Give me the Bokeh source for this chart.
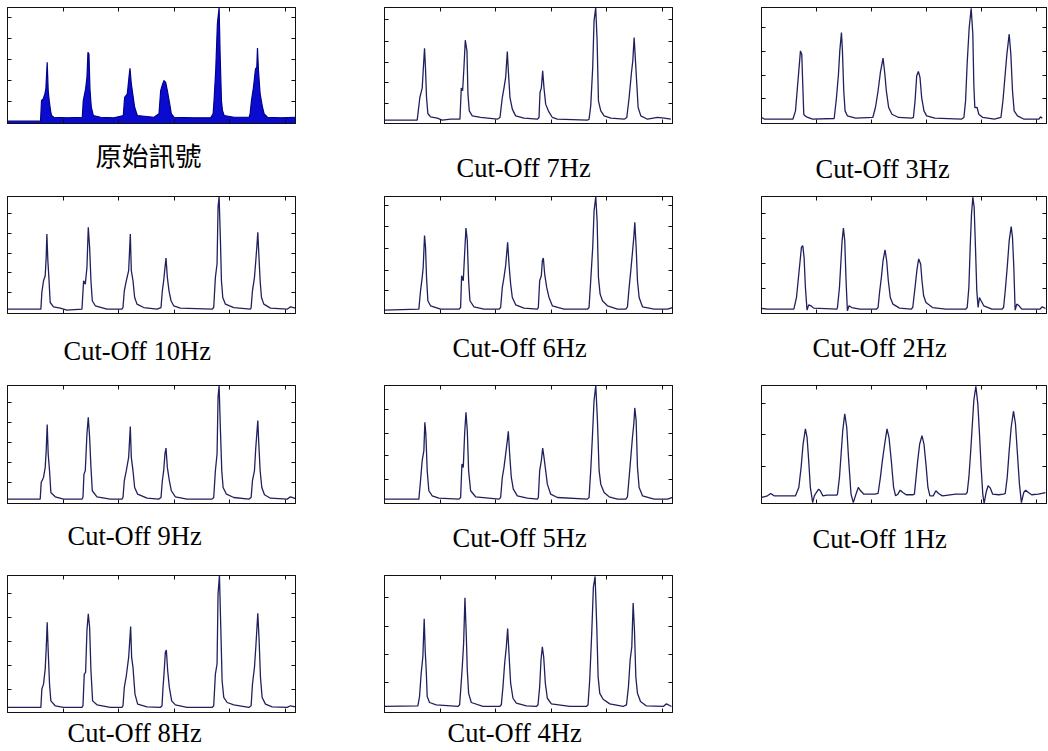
from bokeh.plotting import figure
from bokeh.models import Range1d, LinearAxis, FixedTicker, Title, CustomLabelingPolicy
from bokeh.layouts import column, row
from bokeh.embed import file_html
from bokeh.resources import INLINE

# ---------------- data (time in s, amplitude normalised to full scale) ----------------
x_ticks = [1, 2, 3, 4, 5]

sig_original = [(0.000,0.02),(0.594,0.02),(0.612,0.198),(0.642,0.212),(0.672,0.255),(0.690,0.298),(0.714,0.527),(0.732,0.284),(0.750,0.198),(0.774,0.112),(0.792,0.069),(0.834,0.054),(1.074,0.049),(1.345,0.054),(1.363,0.198),(1.405,0.298),(1.429,0.398),(1.447,0.613),(1.465,0.599),(1.483,0.298),(1.507,0.140),(1.543,0.069),(1.675,0.054),(1.915,0.049),(2.083,0.069),(2.107,0.226),(2.155,0.255),(2.185,0.398),(2.203,0.476),(2.227,0.341),(2.257,0.241),(2.287,0.140),(2.335,0.069),(2.635,0.054),(2.725,0.083),(2.755,0.284),(2.791,0.341),(2.815,0.370),(2.845,0.355),(2.875,0.284),(2.917,0.169),(2.947,0.083),(2.995,0.054),(3.355,0.049),(3.655,0.049),(3.698,0.083),(3.715,0.198),(3.745,0.456),(3.775,0.857),(3.806,1.0),(3.824,0.599),(3.848,0.198),(3.866,0.112),(3.896,0.069),(4.076,0.054),(4.346,0.054),(4.364,0.083),(4.388,0.198),(4.424,0.312),(4.460,0.470),(4.484,0.484),(4.496,0.650),(4.514,0.456),(4.544,0.255),(4.586,0.140),(4.616,0.083),(4.676,0.054),(4.916,0.049),(5.186,0.054)]

sig_7hz = [(0.000,0.029),(0.588,0.029),(0.636,0.224),(0.678,0.305),(0.696,0.454),(0.720,0.649),(0.738,0.468),(0.756,0.224),(0.780,0.086),(0.828,0.057),(0.948,0.046),(1.038,0.029),(1.188,0.037),(1.357,0.037),(1.381,0.305),(1.405,0.282),(1.429,0.483),(1.453,0.718),(1.483,0.626),(1.501,0.253),(1.525,0.109),(1.579,0.066),(1.729,0.052),(2.029,0.037),(2.077,0.052),(2.119,0.224),(2.149,0.305),(2.179,0.397),(2.209,0.621),(2.227,0.454),(2.257,0.224),(2.299,0.124),(2.359,0.066),(2.509,0.046),(2.749,0.037),(2.779,0.052),(2.797,0.267),(2.821,0.305),(2.845,0.454),(2.869,0.305),(2.899,0.167),(2.947,0.109),(3.019,0.052),(3.109,0.037),(3.649,0.029),(3.679,0.037),(3.709,0.152),(3.745,0.483),(3.769,0.885),(3.799,1.0),(3.824,0.713),(3.848,0.195),(3.890,0.109),(3.950,0.066),(4.070,0.046),(4.310,0.037),(4.358,0.052),(4.400,0.224),(4.442,0.440),(4.466,0.540),(4.490,0.741),(4.514,0.540),(4.538,0.339),(4.562,0.138),(4.610,0.066),(4.730,0.037),(4.910,0.052),(5.030,0.046),(5.150,0.037)]

sig_3hz = [(0.000,0.052),(0.060,0.037),(0.570,0.037),(0.618,0.109),(0.648,0.282),(0.678,0.454),(0.708,0.626),(0.732,0.598),(0.750,0.339),(0.768,0.080),(0.792,0.066),(0.840,0.052),(0.930,0.037),(1.321,0.043),(1.363,0.224),(1.399,0.425),(1.423,0.626),(1.453,0.784),(1.471,0.626),(1.495,0.282),(1.519,0.109),(1.561,0.066),(1.711,0.046),(2.023,0.052),(2.071,0.138),(2.119,0.282),(2.161,0.440),(2.209,0.563),(2.239,0.440),(2.269,0.282),(2.311,0.138),(2.371,0.080),(2.491,0.052),(2.731,0.046),(2.761,0.052),(2.791,0.195),(2.821,0.411),(2.851,0.448),(2.881,0.397),(2.911,0.224),(2.953,0.109),(3.001,0.066),(3.151,0.046),(3.631,0.037),(3.679,0.052),(3.709,0.195),(3.739,0.526),(3.775,0.828),(3.811,0.994),(3.841,0.770),(3.859,0.339),(3.877,0.138),(3.919,0.138),(3.949,0.080),(4.022,0.052),(4.232,0.037),(4.352,0.052),(4.388,0.195),(4.424,0.397),(4.460,0.598),(4.502,0.770),(4.532,0.598),(4.562,0.282),(4.592,0.109),(4.652,0.066),(4.772,0.037),(5.042,0.037),(5.072,0.057),(5.102,0.046)]

sig_10hz = [(0.000,0.037),(0.600,0.037),(0.618,0.180),(0.648,0.280),(0.678,0.323),(0.696,0.480),(0.708,0.680),(0.726,0.451),(0.744,0.309),(0.768,0.094),(0.828,0.057),(0.948,0.046),(1.068,0.029),(1.339,0.037),(1.369,0.280),(1.399,0.251),(1.429,0.394),(1.453,0.737),(1.477,0.566),(1.501,0.280),(1.525,0.109),(1.579,0.066),(1.789,0.037),(2.059,0.037),(2.077,0.051),(2.101,0.194),(2.137,0.280),(2.179,0.366),(2.209,0.680),(2.227,0.366),(2.257,0.280),(2.287,0.137),(2.329,0.080),(2.449,0.051),(2.689,0.037),(2.761,0.051),(2.785,0.194),(2.809,0.280),(2.833,0.394),(2.851,0.474),(2.875,0.309),(2.905,0.194),(2.941,0.109),(2.989,0.066),(3.109,0.046),(3.679,0.037),(3.709,0.051),(3.739,0.309),(3.769,0.423),(3.787,0.909),(3.806,1.0),(3.830,0.623),(3.848,0.280),(3.872,0.137),(3.920,0.080),(4.070,0.051),(4.370,0.037),(4.382,0.051),(4.406,0.194),(4.442,0.309),(4.466,0.451),(4.484,0.566),(4.502,0.694),(4.520,0.509),(4.544,0.280),(4.568,0.137),(4.610,0.080),(4.730,0.046),(5.030,0.037),(5.090,0.057),(5.180,0.046)]

sig_6hz = [(0.000,0.029),(0.618,0.037),(0.648,0.194),(0.678,0.309),(0.696,0.394),(0.720,0.666),(0.738,0.566),(0.756,0.309),(0.780,0.109),(0.828,0.066),(1.008,0.037),(1.339,0.037),(1.369,0.051),(1.387,0.323),(1.417,0.280),(1.441,0.509),(1.465,0.731),(1.489,0.623),(1.513,0.280),(1.537,0.109),(1.609,0.057),(1.789,0.037),(2.059,0.037),(2.089,0.051),(2.119,0.223),(2.149,0.309),(2.179,0.409),(2.215,0.609),(2.239,0.423),(2.269,0.251),(2.299,0.137),(2.359,0.074),(2.509,0.046),(2.749,0.037),(2.767,0.051),(2.791,0.280),(2.821,0.323),(2.839,0.451),(2.857,0.474),(2.881,0.337),(2.917,0.223),(2.959,0.137),(3.019,0.066),(3.229,0.037),(3.649,0.037),(3.679,0.051),(3.709,0.280),(3.745,0.566),(3.770,0.880),(3.800,1.0),(3.824,0.794),(3.848,0.309),(3.878,0.166),(3.920,0.109),(4.010,0.066),(4.190,0.037),(4.340,0.037),(4.370,0.057),(4.400,0.223),(4.430,0.366),(4.460,0.523),(4.484,0.651),(4.502,0.780),(4.526,0.566),(4.550,0.280),(4.580,0.137),(4.640,0.057),(4.850,0.037),(5.090,0.037),(5.180,0.051)]

sig_2hz = [(0.000,0.043),(0.108,0.037),(0.588,0.037),(0.636,0.137),(0.666,0.280),(0.696,0.423),(0.726,0.566),(0.750,0.580),(0.774,0.480),(0.798,0.223),(0.828,0.029),(0.858,0.074),(0.900,0.066),(0.948,0.046),(1.369,0.037),(1.381,0.051),(1.417,0.223),(1.441,0.423),(1.465,0.623),(1.489,0.731),(1.513,0.623),(1.537,0.280),(1.561,0.023),(1.591,0.066),(1.639,0.051),(1.789,0.037),(2.089,0.037),(2.119,0.051),(2.149,0.194),(2.179,0.309),(2.209,0.451),(2.245,0.543),(2.275,0.451),(2.305,0.280),(2.341,0.137),(2.389,0.080),(2.509,0.046),(2.719,0.037),(2.749,0.051),(2.791,0.223),(2.827,0.380),(2.857,0.466),(2.893,0.423),(2.917,0.280),(2.947,0.151),(2.989,0.094),(3.109,0.051),(3.349,0.037),(3.709,0.037),(3.739,0.051),(3.769,0.223),(3.793,0.566),(3.817,0.851),(3.841,0.994),(3.865,0.909),(3.889,0.566),(3.913,0.194),(3.937,0.051),(3.961,0.137),(3.991,0.109),(4.040,0.066),(4.190,0.037),(4.370,0.037),(4.400,0.051),(4.430,0.194),(4.466,0.394),(4.502,0.623),(4.538,0.743),(4.562,0.651),(4.586,0.394),(4.610,0.029),(4.640,0.080),(4.682,0.066),(4.730,0.037),(5.060,0.037),(5.102,0.057),(5.162,0.043)]

sig_9hz = [(0.000,0.037),(0.588,0.037),(0.606,0.178),(0.648,0.221),(0.678,0.306),(0.696,0.448),(0.714,0.669),(0.732,0.419),(0.756,0.278),(0.780,0.093),(0.858,0.057),(1.008,0.037),(1.339,0.037),(1.357,0.051),(1.375,0.249),(1.399,0.278),(1.429,0.589),(1.453,0.731),(1.477,0.561),(1.501,0.306),(1.525,0.108),(1.609,0.057),(1.849,0.037),(2.059,0.037),(2.077,0.051),(2.101,0.193),(2.137,0.278),(2.179,0.391),(2.209,0.652),(2.227,0.391),(2.257,0.278),(2.287,0.136),(2.341,0.079),(2.509,0.045),(2.719,0.037),(2.761,0.051),(2.785,0.193),(2.809,0.278),(2.833,0.425),(2.851,0.470),(2.875,0.306),(2.911,0.193),(2.947,0.108),(3.019,0.057),(3.229,0.037),(3.679,0.037),(3.709,0.051),(3.739,0.278),(3.769,0.419),(3.787,0.901),(3.806,1.0),(3.830,0.618),(3.854,0.278),(3.878,0.136),(3.938,0.079),(4.070,0.051),(4.340,0.037),(4.382,0.051),(4.406,0.193),(4.442,0.278),(4.466,0.476),(4.502,0.703),(4.520,0.504),(4.544,0.278),(4.574,0.136),(4.622,0.074),(4.730,0.045),(5.030,0.037),(5.090,0.057),(5.180,0.042)]

sig_5hz = [(0.000,0.037),(0.618,0.037),(0.648,0.193),(0.678,0.363),(0.708,0.448),(0.726,0.688),(0.744,0.589),(0.768,0.278),(0.798,0.108),(0.858,0.065),(0.978,0.045),(1.339,0.037),(1.369,0.051),(1.393,0.334),(1.417,0.306),(1.441,0.589),(1.465,0.773),(1.489,0.618),(1.513,0.278),(1.549,0.108),(1.639,0.057),(2.059,0.037),(2.089,0.051),(2.119,0.221),(2.149,0.306),(2.179,0.419),(2.209,0.533),(2.227,0.612),(2.251,0.419),(2.281,0.221),(2.317,0.122),(2.389,0.065),(2.569,0.045),(2.749,0.037),(2.767,0.051),(2.791,0.278),(2.821,0.363),(2.845,0.470),(2.869,0.391),(2.899,0.278),(2.929,0.164),(2.989,0.079),(3.109,0.051),(3.649,0.037),(3.679,0.051),(3.709,0.278),(3.739,0.561),(3.769,0.873),(3.800,1.0),(3.830,0.703),(3.860,0.278),(3.890,0.164),(3.950,0.093),(4.040,0.057),(4.190,0.037),(4.340,0.037),(4.370,0.057),(4.400,0.221),(4.430,0.391),(4.460,0.561),(4.484,0.674),(4.502,0.810),(4.526,0.703),(4.550,0.306),(4.580,0.136),(4.640,0.065),(4.850,0.037),(5.090,0.037),(5.180,0.051)]

sig_1hz = [(0.000,0.051),(0.108,0.065),(0.168,0.085),(0.228,0.065),(0.618,0.065),(0.678,0.136),(0.720,0.306),(0.756,0.504),(0.798,0.632),(0.828,0.561),(0.858,0.363),(0.888,0.136),(0.930,0.008),(0.960,0.065),(0.996,0.093),(1.038,0.122),(1.068,0.108),(1.116,0.065),(1.188,0.071),(1.369,0.071),(1.381,0.079),(1.417,0.221),(1.447,0.419),(1.477,0.618),(1.513,0.759),(1.549,0.646),(1.585,0.363),(1.627,0.079),(1.669,0.008),(1.717,0.079),(1.759,0.136),(1.801,0.108),(1.861,0.079),(2.059,0.079),(2.119,0.085),(2.161,0.221),(2.197,0.363),(2.239,0.504),(2.281,0.632),(2.317,0.561),(2.359,0.363),(2.401,0.136),(2.437,0.065),(2.479,0.079),(2.521,0.113),(2.569,0.093),(2.629,0.074),(2.749,0.074),(2.779,0.079),(2.809,0.221),(2.839,0.363),(2.875,0.504),(2.917,0.575),(2.953,0.504),(2.989,0.334),(3.025,0.136),(3.061,0.065),(3.121,0.065),(3.169,0.108),(3.217,0.085),(3.289,0.065),(3.529,0.079),(3.709,0.079),(3.739,0.093),(3.769,0.221),(3.799,0.419),(3.829,0.646),(3.859,0.873),(3.896,0.992),(3.932,0.844),(3.962,0.589),(3.992,0.306),(4.022,0.079),(4.046,0.000),(4.082,0.093),(4.118,0.150),(4.160,0.130),(4.202,0.079),(4.310,0.074),(4.400,0.079),(4.430,0.085),(4.466,0.221),(4.502,0.448),(4.538,0.646),(4.580,0.782),(4.616,0.674),(4.652,0.419),(4.688,0.164),(4.724,0.008),(4.766,0.093),(4.802,0.113),(4.850,0.093),(4.910,0.074),(5.030,0.079),(5.162,0.093)]

sig_8hz = [(0.000,0.037),(0.600,0.037),(0.618,0.171),(0.648,0.207),(0.678,0.317),(0.696,0.463),(0.714,0.659),(0.732,0.451),(0.756,0.207),(0.780,0.085),(0.858,0.049),(1.008,0.037),(1.339,0.037),(1.357,0.049),(1.381,0.280),(1.405,0.293),(1.429,0.598),(1.453,0.720),(1.477,0.622),(1.501,0.305),(1.531,0.085),(1.609,0.056),(1.849,0.037),(2.059,0.037),(2.077,0.049),(2.101,0.183),(2.137,0.268),(2.179,0.402),(2.215,0.627),(2.233,0.402),(2.257,0.329),(2.293,0.134),(2.341,0.061),(2.509,0.041),(2.749,0.037),(2.779,0.049),(2.797,0.183),(2.815,0.280),(2.839,0.439),(2.857,0.456),(2.881,0.305),(2.911,0.183),(2.953,0.085),(3.019,0.056),(3.229,0.037),(3.679,0.037),(3.709,0.049),(3.739,0.280),(3.769,0.354),(3.787,0.866),(3.812,1.0),(3.836,0.622),(3.860,0.232),(3.890,0.110),(3.950,0.073),(4.070,0.056),(4.340,0.037),(4.382,0.049),(4.406,0.207),(4.442,0.329),(4.466,0.476),(4.502,0.724),(4.526,0.524),(4.550,0.256),(4.580,0.110),(4.640,0.061),(4.760,0.041),(5.030,0.037),(5.090,0.049),(5.180,0.041)]

sig_4hz = [(0.000,0.044),(0.600,0.048),(0.630,0.116),(0.660,0.286),(0.690,0.407),(0.714,0.685),(0.732,0.455),(0.750,0.310),(0.768,0.116),(0.810,0.073),(0.930,0.056),(1.321,0.044),(1.351,0.056),(1.375,0.189),(1.399,0.334),(1.423,0.504),(1.447,0.838),(1.471,0.564),(1.489,0.310),(1.513,0.140),(1.561,0.073),(1.771,0.044),(2.071,0.044),(2.101,0.056),(2.131,0.189),(2.161,0.358),(2.191,0.479),(2.215,0.613),(2.239,0.431),(2.269,0.213),(2.311,0.104),(2.371,0.068),(2.551,0.048),(2.731,0.044),(2.761,0.056),(2.791,0.189),(2.815,0.383),(2.839,0.479),(2.863,0.407),(2.893,0.213),(2.929,0.104),(3.001,0.063),(3.331,0.044),(3.631,0.044),(3.661,0.056),(3.691,0.237),(3.727,0.576),(3.757,0.915),(3.788,0.993),(3.818,0.625),(3.842,0.262),(3.872,0.140),(3.932,0.097),(4.052,0.063),(4.292,0.044),(4.352,0.056),(4.388,0.189),(4.418,0.383),(4.448,0.479),(4.472,0.799),(4.496,0.600),(4.520,0.262),(4.550,0.140),(4.604,0.080),(4.712,0.048),(5.012,0.044),(5.072,0.063),(5.162,0.044)]

# y tick positions of each panel (normalised amplitude)
yt_original = [0.19, 0.37, 0.55, 0.735, 0.915]
yt_7hz = [0.175, 0.356, 0.528, 0.709, 0.897]
yt_3hz = [0.218, 0.416, 0.623, 0.825]
yt_10hz = [0.180, 0.351, 0.517, 0.686, 0.851]
yt_6hz = [0.194, 0.371, 0.557, 0.743, 0.923]
yt_2hz = [0.214, 0.429, 0.637, 0.851]
yt_9hz = [0.178, 0.348, 0.518, 0.683, 0.858]
yt_5hz = [0.207, 0.405, 0.595, 0.793]
yt_1hz = [0.317, 0.584, 0.850]
yt_8hz = [0.171, 0.346, 0.517, 0.695, 0.866]
yt_4hz = [0.218, 0.424, 0.625, 0.838]

labels = ["原始訊號", "Cut-Off 7Hz", "Cut-Off 3Hz",
          "Cut-Off 10Hz", "Cut-Off 6Hz", "Cut-Off 2Hz",
          "Cut-Off 9Hz", "Cut-Off 5Hz", "Cut-Off 1Hz",
          "Cut-Off 8Hz", "Cut-Off 4Hz"]

# ---------------- layout / style ----------------
LINE = "#20205e"
FILL = "#0b0bcf"
SERIF = "Liberation Serif"
X_END = 5.18

col_frame_w = [288, 288, 285]
col_border = [(7, 82), (7, 82), (7, 2)]            # left, right
row_frame_h = [116, 117, 118, 137]
row_border = [(7, 66), (7, 65), (7, 65), (7, 39)]  # top, bottom

hide_labels = CustomLabelingPolicy(code="for (const i of indices) indices.unset(i); return indices")


def make_axis(ticks, tick_in, tick_out, color):
    ax = LinearAxis(ticker=FixedTicker(ticks=ticks, minor_ticks=[]))
    ax.major_label_policy = hide_labels
    ax.major_label_text_font_size = "0px"
    ax.major_label_standoff = 0
    ax.major_tick_in = tick_in
    ax.major_tick_out = tick_out
    ax.minor_tick_in = 0
    ax.minor_tick_out = 0
    ax.axis_line_color = color
    ax.major_tick_line_color = color
    return ax


def make_panel(label, series, yticks, r, c, cap_left, cap_gap, filled=False):
    fw, fh = col_frame_w[c], row_frame_h[r]
    p = figure(frame_width=fw, frame_height=fh,
               x_range=Range1d(0, X_END), y_range=Range1d(0, 1.0),
               x_axis_type=None, y_axis_type=None,
               toolbar_location=None, output_backend="svg",
               min_border_left=col_border[c][0], min_border_right=col_border[c][1],
               min_border_top=row_border[r][0], min_border_bottom=row_border[r][1])
    p.outline_line_color = "#111111"
    p.outline_line_width = 1
    p.background_fill_color = "white"
    p.border_fill_color = "white"
    for side in ("left", "right", "above", "below"):
        ticks = x_ticks if side in ("above", "below") else yticks
        p.add_layout(make_axis(ticks, 4, 0, "#111111"), side)
    # invisible spacer between the panel and its caption
    p.add_layout(make_axis(x_ticks, 0, cap_gap, None), "below")
    t = [a for a, b in series]
    v = [b for a, b in series]
    if filled:
        p.varea(x=t, y1=[0] * len(t), y2=v, fill_color=FILL, fill_alpha=1.0)
        p.line(t, v, line_color="#00008a", line_width=1.2)
    else:
        p.line(t, v, line_color=LINE, line_width=1.3)
    font = "Noto Sans CJK TC" if label == "原始訊號" else SERIF
    p.add_layout(Title(text=label, align="left", offset=cap_left, standoff=0,
                       vertical_align="bottom", text_font=font,
                       text_font_size="26.5px", text_font_style="normal",
                       text_color="black"), "below")
    return p


p1 = make_panel(labels[0], sig_original, yt_original, 0, 0, 88, 9, filled=True)
p2 = make_panel(labels[1], sig_7hz, yt_7hz, 0, 1, 72, 27)
p3 = make_panel(labels[2], sig_3hz, yt_3hz, 0, 2, 54, 28)
p4 = make_panel(labels[3], sig_10hz, yt_10hz, 1, 0, 56, 20)
p5 = make_panel(labels[4], sig_6hz, yt_6hz, 1, 1, 68, 17)
p6 = make_panel(labels[5], sig_2hz, yt_2hz, 1, 2, 51, 17)
p7 = make_panel(labels[6], sig_9hz, yt_9hz, 2, 0, 60, 15)
p8 = make_panel(labels[7], sig_5hz, yt_5hz, 2, 1, 68, 17)
p9 = make_panel(labels[8], sig_1hz, yt_1hz, 2, 2, 51, 18)
p10 = make_panel(labels[9], sig_8hz, yt_8hz, 3, 0, 60, 3)
p11 = make_panel(labels[10], sig_4hz, yt_4hz, 3, 1, 63, 3)

layout = column(row(p1, p2, p3), row(p4, p5, p6), row(p7, p8, p9), row(p10, p11))

open("out.html", "w").write(file_html(layout, INLINE))
